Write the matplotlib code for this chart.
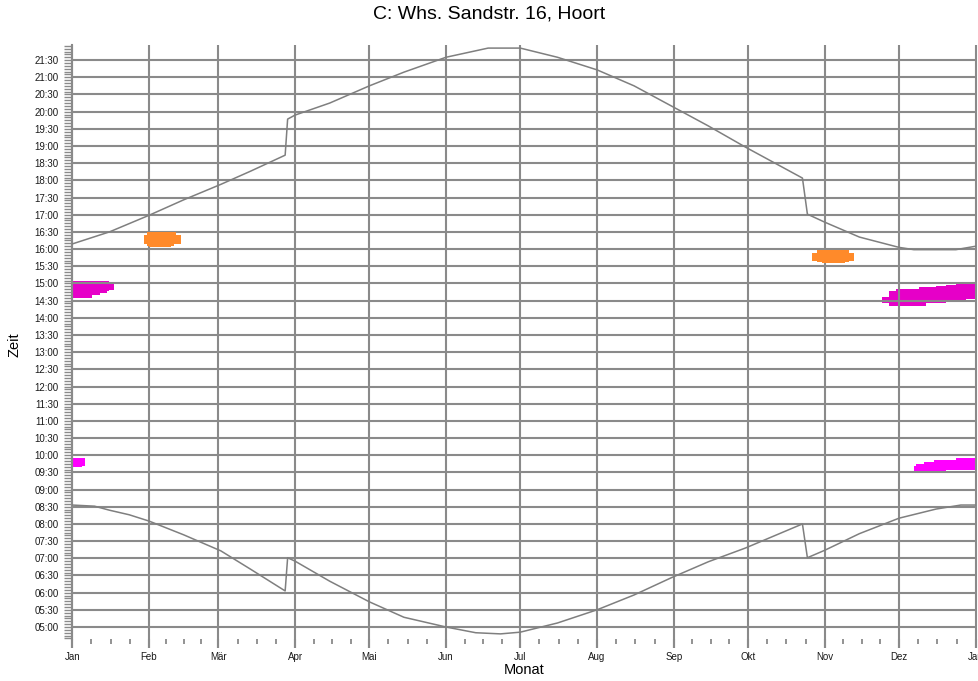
import matplotlib
matplotlib.use("Agg")
import matplotlib.pyplot as plt
import numpy as np

plt.rcParams['font.family'] = ['Liberation Sans', 'DejaVu Sans']

# ---------------- data ----------------
title = "C: Whs. Sandstr. 16, Hoort"
month_start = [0, 31, 59, 90, 120, 151, 181, 212, 243, 273, 304, 334, 365]
month_labels = ["Jan", "Feb", "Mär", "Apr", "Mai", "Jun", "Jul", "Aug",
                "Sep", "Okt", "Nov", "Dez", "Jan"]

sunset_day = [0, 15, 31, 45, 60, 72, 86, 87, 90, 104, 120, 134, 151, 168,
              181, 196, 212, 227, 242, 257, 272, 295, 297, 304, 318, 334,
              340, 357, 365]
sunset_time = ["16:09", "16:30", "16:59", "17:26", "17:53", "18:16", "18:44",
               "19:47", "19:54", "20:15", "20:45", "21:09", "21:35", "21:51",
               "21:51", "21:35", "21:13", "20:45", "20:10", "19:35", "18:58",
               "18:04", "17:01", "16:47", "16:21", "16:03", "15:59", "15:59",
               "16:05"]

sunrise_day = [0, 9, 15, 23, 31, 45, 60, 72, 86, 87, 90, 104, 120, 134, 151,
               163, 173, 181, 196, 212, 227, 242, 257, 272, 295, 297, 304,
               318, 334, 349, 359, 365]
sunrise_time = ["08:33", "08:31", "08:24", "08:16", "08:05", "07:41", "07:13",
                "06:41", "06:03", "07:01", "06:55", "06:20", "05:44", "05:17",
                "05:00", "04:50", "04:48", "04:51", "05:07", "05:30", "05:56",
                "06:26", "06:54", "07:18", "08:00", "07:01", "07:14", "07:43",
                "08:10", "08:26", "08:33", "08:33"]

# shadow periods: segment boundaries (days) and from/to times per segment
feb_bounds = [29, 30, 31, 40, 41, 42, 44]
feb_from = ["16:09", "16:06", "16:04", "16:06", "16:09", "16:09"]
feb_to = ["16:25", "16:29", "16:30", "16:30", "16:30", "16:25"]

nov_bounds = [299, 301, 303, 312, 314, 316]
nov_from = ["15:40", "15:37", "15:35", "15:37", "15:40"]
nov_to = ["15:53", "15:58", "15:59", "15:58", "15:53"]

jan_pm_bounds = [0, 8, 11, 14, 15, 17]
jan_pm_from = ["14:35", "14:40", "14:44", "14:47", "14:48"]
jan_pm_to = ["15:04", "15:04", "15:04", "15:04", "15:00"]

jan_am_bounds = [0, 4, 5]
jan_am_from = ["09:39", "09:42"]
jan_am_to = ["09:55", "09:55"]

dec_pm_bounds = [327, 330, 333, 336, 342, 345, 349, 353, 357, 361, 365]
dec_pm_from = ["14:25", "14:21", "14:21", "14:21", "14:21", "14:25", "14:25",
               "14:28", "14:28", "14:32"]
dec_pm_to = ["14:37", "14:47", "14:50", "14:51", "14:53", "14:53", "14:55",
             "14:57", "14:59", "15:00"]

dec_am_bounds = [340, 341, 344, 348, 353, 357, 365]
dec_am_from = ["09:29", "09:29", "09:29", "09:29", "09:34", "09:34"]
dec_am_to = ["09:41", "09:45", "09:48", "09:52", "09:52", "09:55"]


def hours(lst):
    return np.array([int(s[:2]) + int(s[3:]) / 60.0 for s in lst])


# ---------------- figure ----------------
W, H = 979, 681
fig = plt.figure(figsize=(W / 100, H / 100), dpi=100)
x0, x1, y_top, y_bot = 72.3, 975.7, 45, 639
ax = fig.add_axes([x0 / W, 1 - y_bot / H, (x1 - x0) / W, (y_bot - y_top) / H])

ax.set_xlim(0, 365)
ax.set_ylim(4.651, 21.94)

grid_c = "#8a8a8a"
line_c = "#7f7f7f"
orange = "#FF8A2A"
mag_pm = "#E600C8"
mag_am = "#FF00FF"


def shade(bounds, frm, to, color, z):
    b = np.array(bounds, dtype=float)
    f = hours(frm)
    t = hours(to)
    f = np.append(f, f[-1])
    t = np.append(t, t[-1])
    ax.fill_between(b, f, t, step="post", color=color, linewidth=0, zorder=z)


shade(jan_pm_bounds, jan_pm_from, jan_pm_to, mag_pm, 1)
shade(dec_pm_bounds, dec_pm_from, dec_pm_to, mag_pm, 1)
shade(jan_am_bounds, jan_am_from, jan_am_to, mag_am, 1)
shade(dec_am_bounds, dec_am_from, dec_am_to, mag_am, 1)

# grid
major_y = np.arange(5.0, 21.51, 0.5)
for yv in major_y:
    ax.axhline(yv, color=grid_c, lw=1.5, zorder=2)
# month lines, extended below the axis as the major month ticks
ax.vlines(month_start, -9.0 / (y_bot - y_top), 1.0,
          transform=ax.get_xaxis_transform(), colors=grid_c, lw=1.5,
          zorder=2, clip_on=False)

shade(feb_bounds, feb_from, feb_to, orange, 3)
shade(nov_bounds, nov_from, nov_to, orange, 3)

ax.plot(sunset_day, hours(sunset_time), color=line_c, lw=1.1, zorder=4)
ax.plot(sunrise_day, hours(sunrise_time), color=line_c, lw=1.1, zorder=4)

# ticks
ax.set_yticks(major_y)
ax.set_yticklabels(["%02d:%02d" % (int(v), int(round((v % 1) * 60))) for v in major_y])
ax.set_yticks(np.arange(4 + 40 / 60, 21.94, 5 / 60), minor=True)

ax.set_xticks(month_start)
ax.set_xticklabels(month_labels)
quarters = []
for a, b in zip(month_start[:-1], month_start[1:]):
    for k in (1, 2, 3):
        quarters.append(a + (b - a) * k / 4)
ax.set_xticks(quarters, minor=True)

ax.tick_params(axis="y", which="both", direction="out", length=6, width=1.0,
               color=grid_c, labelsize=7, pad=4, labelcolor="#1a1a1a")
ax.tick_params(axis="x", which="major", direction="out", length=6.5, width=1.5,
               color=grid_c, labelsize=7, pad=3, labelcolor="#1a1a1a")
ax.tick_params(axis="x", which="minor", direction="out", length=3.5, width=1.3,
               color=grid_c)

for s in ("top", "right", "bottom"):
    ax.spines[s].set_visible(False)
ax.spines["left"].set_color(grid_c)
ax.spines["left"].set_linewidth(1.5)
ax.spines["left"].set_zorder(2)

ax.set_facecolor("white")

fig.text(0.5, 1 - 14 / H, title, ha="center", va="center", fontsize=14)
fig.text((x0 + x1) / 2 / W, 1 - 670 / H, "Monat", ha="center", va="center", fontsize=10.5)
fig.text(15 / W, 1 - 345 / H, "Zeit", ha="center", va="center", rotation=90, fontsize=10.5)

fig.savefig("out.png", dpi=100)
